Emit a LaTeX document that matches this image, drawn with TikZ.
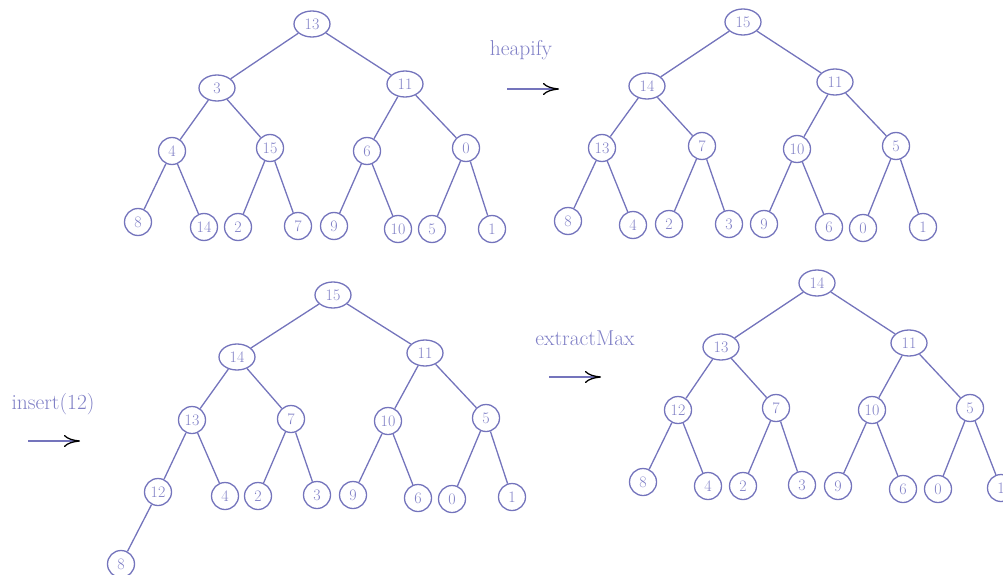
\documentclass[tikz,border=0pt]{standalone}
\usetikzlibrary{shapes.geometric,arrows.meta}
\definecolor{ln}{RGB}{116,116,188}
\definecolor{tx}{RGB}{128,128,198}
\tikzset{
  ov/.style={ellipse,draw=ln,line width=1.3pt,minimum width=36pt,minimum height=26pt,inner sep=0pt,text=tx,font=\fontsize{16}{18}\selectfont},
  cc/.style={circle,draw=ln,line width=1.3pt,minimum size=27pt,inner sep=0pt,text=tx,font=\fontsize{16}{18}\selectfont},
  ed/.style={draw=ln,line width=1.3pt},
  lbl/.style={text=tx,font=\fontsize{21.5}{24}\selectfont,inner sep=0pt},
  op/.style={draw=ln,line width=1.3pt,-{To[color=black,length=16pt,width=12pt,line width=1.3pt]}}
}
\begin{document}
\begin{tikzpicture}[x=1pt,y=-1pt]
\useasboundingbox (0,0) rectangle (1003,575);
\clip (0,0) rectangle (1003,575);
% ---------- tree 1
\node[ov] (a0) at (312,24) {13};
\node[ov] (a1) at (217,88) {3};
\node[ov] (a2) at (405,84) {11};
\node[cc] (a3) at (172,151) {4};
\node[cc] (a4) at (270,148) {15};
\node[cc] (a5) at (367,151) {6};
\node[cc] (a6) at (466,148) {0};
\node[cc] (a7) at (138,222) {8};
\node[cc] (a8) at (204,227) {14};
\node[cc] (a9) at (238,227) {2};
\node[cc] (a10) at (298,226) {7};
\node[cc] (a11) at (334,226) {9};
\node[cc] (a12) at (398,229) {10};
\node[cc] (a13) at (432,229) {5};
\node[cc] (a14) at (492,229) {1};
\draw[ed] (a0)--(a1) (a0)--(a2) (a1)--(a3) (a1)--(a4) (a2)--(a5) (a2)--(a6)
  (a3)--(a7) (a3)--(a8) (a4)--(a9) (a4)--(a10) (a5)--(a11) (a5)--(a12) (a6)--(a13) (a6)--(a14);
% ---------- heapify
\node[lbl] (h) at (521,50) {heapify};
\coordinate (h1) at (507,89);
\coordinate (h2) at (559,89);
\draw[op] (h1) -- (h2);
% ---------- tree 2
\node[ov] (b0) at (743,22) {15};
\node[ov] (b1) at (647,86) {14};
\node[ov] (b2) at (835,82) {11};
\node[cc] (b3) at (602,148) {13};
\node[cc] (b4) at (702,146) {7};
\node[cc] (b5) at (797,149) {10};
\node[cc] (b6) at (896,146) {5};
\node[cc] (b7) at (568,221) {8};
\node[cc] (b8) at (633,225) {4};
\node[cc] (b9) at (669,224) {2};
\node[cc] (b10) at (729,224) {3};
\node[cc] (b11) at (764,224) {9};
\node[cc] (b12) at (829,227) {6};
\node[cc] (b13) at (863,228) {0};
\node[cc] (b14) at (923,227) {1};
\draw[ed] (b0)--(b1) (b0)--(b2) (b1)--(b3) (b1)--(b4) (b2)--(b5) (b2)--(b6)
  (b3)--(b7) (b3)--(b8) (b4)--(b9) (b4)--(b10) (b5)--(b11) (b5)--(b12) (b6)--(b13) (b6)--(b14);
% ---------- insert
\node[lbl] (ins) at (53,404) {insert(12)};
\coordinate (i1) at (28,441);
\coordinate (i2) at (80,441);
\draw[op] (i1) -- (i2);
% ---------- tree 3
\node[ov] (c0) at (333,295) {15};
\node[ov] (c1) at (237,357) {14};
\node[ov] (c2) at (425,353) {11};
\node[cc] (c3) at (192,420) {13};
\node[cc] (c4) at (291,419) {7};
\node[cc] (c5) at (388,421) {10};
\node[cc] (c6) at (486,418) {5};
\node[cc] (c7) at (158,492) {12};
\node[cc] (c8) at (225,496) {4};
\node[cc] (c9) at (258,496) {2};
\node[cc] (c10) at (317,495) {3};
\node[cc] (c11) at (353,495) {9};
\node[cc] (c12) at (418,498) {6};
\node[cc] (c13) at (452,499) {0};
\node[cc] (c14) at (512,497) {1};
\node[cc] (c15) at (121,564) {8};
\draw[ed] (c0)--(c1) (c0)--(c2) (c1)--(c3) (c1)--(c4) (c2)--(c5) (c2)--(c6)
  (c3)--(c7) (c3)--(c8) (c4)--(c9) (c4)--(c10) (c5)--(c11) (c5)--(c12) (c6)--(c13) (c6)--(c14)
  (c7)--(c15);
% ---------- extractMax
\node[lbl] (ex) at (585,338) {extractMax};
\coordinate (e1) at (549,377);
\coordinate (e2) at (601,377);
\draw[op] (e1) -- (e2);
% ---------- tree 4
\node[ov] (d0) at (817,283) {14};
\node[ov] (d1) at (721,347) {13};
\node[ov] (d2) at (909,343) {11};
\node[cc] (d3) at (678,410) {12};
\node[cc] (d4) at (776,408) {7};
\node[cc] (d5) at (872,410) {10};
\node[cc] (d6) at (970,408) {5};
\node[cc] (d7) at (643,482) {8};
\node[cc] (d8) at (708,486) {4};
\node[cc] (d9) at (743,486) {2};
\node[cc] (d10) at (802,485) {3};
\node[cc] (d11) at (838,486) {9};
\node[cc] (d12) at (903,489) {6};
\node[cc] (d13) at (938,489) {0};
\node[cc] (d14) at (1001,488) {1};
\draw[ed] (d0)--(d1) (d0)--(d2) (d1)--(d3) (d1)--(d4) (d2)--(d5) (d2)--(d6)
  (d3)--(d7) (d3)--(d8) (d4)--(d9) (d4)--(d10) (d5)--(d11) (d5)--(d12) (d6)--(d13) (d6)--(d14);
\end{tikzpicture}
\end{document}
